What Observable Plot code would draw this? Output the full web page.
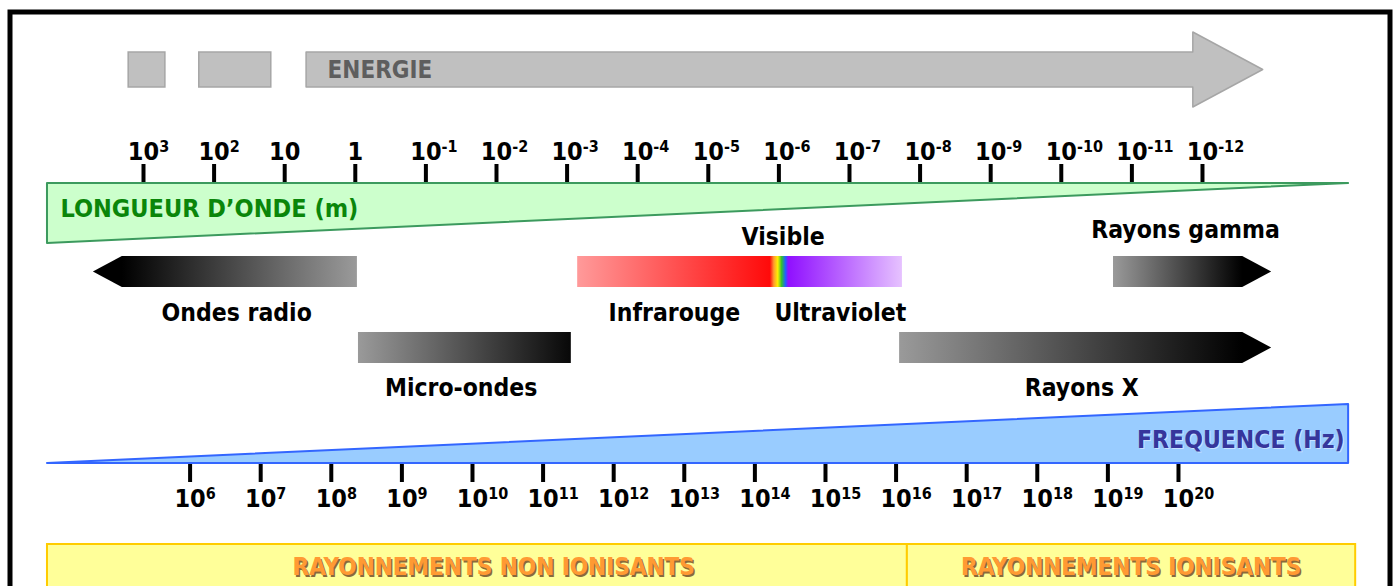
<!DOCTYPE html>
<html><head><meta charset="utf-8">
<script src="https://cdn.jsdelivr.net/npm/d3@7"></script>
<script src="https://cdn.jsdelivr.net/npm/@observablehq/plot@0.6"></script>
<style>
html,body{margin:0;padding:0;background:#fff;overflow:hidden}
</style></head><body><div id="chart"></div><script>
// ---- Data (x unit = exponent of the wavelength in metres) ----
const waveExponents = [3,2,1,0,-1,-2,-3,-4,-5,-6,-7,-8,-9,-10,-11,-12];
const waveLabels = ["10^3","10^2","10","1","10^-1","10^-2","10^-3","10^-4","10^-5","10^-6","10^-7","10^-8","10^-9","10^-10","10^-11","10^-12"];
const freqExponents = [6,7,8,9,10,11,12,13,14,15,16,17,18,19,20];
const freqLabels = ["10^6","10^7","10^8","10^9","10^10","10^11","10^12","10^13","10^14","10^15","10^16","10^17","10^18","10^19","10^20"];
const freqToWave = 8.34; // as drawn: wavelength exponent = 8.34 - frequency exponent

const bandNames = ["Ondes radio","Micro-ondes","Infrarouge–Ultraviolet","Rayons X","Rayons gamma"];
const bandLong  = [3.71, -0.045, -3.15, -7.71, -10.74];   // long-wavelength end
const bandShort = [-0.03, -3.06, -7.75, -12.98, -12.98];  // short-wavelength end
const bandArrow = ["left","none","none","right","right"];
const bandRow   = [1,2,1,2,1];
const visibleRed = -5.88, visibleViolet = -6.14;           // visible window inside the IR–UV bar

const labelTexts = ["Ondes radio","Micro-ondes","Infrarouge","Visible","Ultraviolet","Rayons X","Rayons gamma"];
const labelAt    = [1.68, -1.50, -4.52, -6.06, -6.87, -10.29, -11.76];
const labelRow   = ["row1","row2","row1","visible","row1","row2","gamma"];

const axisFrom = 4.36, axisTo = -14.07;                    // ends of the two wedges
const energyBlocks = [[3.21, 2.69],[2.21, 1.19]];
const energyArrow = [0.69, -11.87, -12.86];                // start, head base, tip
const zones = ["RAYONNEMENTS NON IONISANTS","RAYONNEMENTS IONISANTS"];
const zoneFrom = [4.36, -7.82], zoneTo = [-7.82, -14.17], zoneLabelAt = [-1.96, -10.99];

// ---- Layout (pixels) ----
const W = 1395, H = 586;
const Y = {eTop:52,eBot:87,eHeadTop:32,eHeadBot:107,eLabel:70,waveLabel:151,waveTick:[164,183],
  gTop:183,gBot:243,gLabel:208,row1:[256,287],row2:[332,363],row1Label:313,row2Label:388,
  visible:237,gamma:230,bTop:404,bBot:463,bLabel:440,freqTick:[464,482],freqLabel:498,yellow:[544,640],yLabel:567};
const headLen = 0.41;
const FONT = "'DejaVu Sans Condensed','DejaVu Sans',sans-serif";
const LABEL = 24.5, TICK = 25, SUP = 16;

function arrowPts(long, short, dir, top, bot){
  const mid = (top+bot)/2;
  if (dir==="right") return [{x:long,y1:top,y2:bot},{x:short+headLen,y1:top,y2:bot},{x:short,y1:mid,y2:mid}];
  if (dir==="left") return [{x:long,y1:mid,y2:mid},{x:long-headLen,y1:top,y2:bot},{x:short,y1:top,y2:bot}];
  return [{x:long,y1:top,y2:bot},{x:short,y1:top,y2:bot}];
}
const frac = (i,e) => (bandLong[i]-e)/(bandLong[i]-bandShort[i]);
const gradients = [
  [[0,"#000"],[frac(0,bandLong[0]-headLen),"#000"],[1,"#9a9a9a"]],
  [[0,"#9a9a9a"],[1,"#080808"]],
  [[0,"#ff9a9a"],[frac(2,visibleRed),"#ff0a0a"],[frac(2,visibleRed)+0.012,"#ff9a30"],[frac(2,visibleRed)+0.024,"#ffee00"],
   [frac(2,visibleRed)+0.036,"#30c030"],[frac(2,visibleRed)+0.048,"#2060ff"],[frac(2,visibleViolet),"#9010ff"],[1,"#e6c2ff"]],
  [[0,"#9a9a9a"],[frac(3,bandShort[3]+headLen),"#000"],[1,"#000"]],
  [[0,"#9a9a9a"],[frac(4,bandShort[4]+headLen),"#000"],[1,"#000"]]
];

const marks = [];
// frame
marks.push(Plot.frame({stroke:"#000",strokeWidth:5,insetLeft:9.5,insetTop:11.5,insetRight:5.5,insetBottom:-20}));
// energy
marks.push(Plot.rect(energyBlocks,{x1:d=>d[0],x2:d=>d[1],y1:Y.eTop,y2:Y.eBot,fill:"#c0c0c0",stroke:"#a6a6a6",strokeWidth:1.5}));
marks.push(Plot.areaY([
  {x:energyArrow[0],y1:Y.eTop,y2:Y.eBot},{x:energyArrow[1],y1:Y.eTop,y2:Y.eBot},
  {x:energyArrow[1],y1:Y.eHeadTop,y2:Y.eHeadBot},{x:energyArrow[2],y1:(Y.eTop+Y.eBot)/2,y2:(Y.eTop+Y.eBot)/2}],
  {x:"x",y1:"y1",y2:"y2",fill:"#c0c0c0",stroke:"#a6a6a6",strokeWidth:1.5}));
marks.push(Plot.text(["ENERGIE"],{x:energyArrow[0],y:Y.eLabel,text:d=>d,dx:21,textAnchor:"start",fill:"#5e5e5e",fontSize:24,fontWeight:"bold",fontFamily:FONT}));
// wavelength axis
marks.push(Plot.ruleX(waveExponents,{x:d=>d,y1:Y.waveTick[0],y2:Y.waveTick[1],stroke:"#000",strokeWidth:4}));
marks.push(Plot.text(waveExponents,{x:d=>d,y:Y.waveLabel,text:(d,i)=>waveLabels[i],fill:"#000",fontSize:TICK,fontWeight:"bold",fontFamily:FONT}));
marks.push(Plot.areaY([{x:axisFrom,y1:Y.gTop,y2:Y.gBot},{x:axisTo,y1:Y.gTop,y2:Y.gTop}],
  {x:"x",y1:"y1",y2:"y2",fill:"#ccffcc",stroke:"#3c9a5e",strokeWidth:2}));
marks.push(Plot.text(["LONGUEUR D’ONDE (m)"],{x:axisFrom,y:Y.gLabel,text:d=>d,dx:13,textAnchor:"start",fill:"#0a860a",fontSize:25,fontWeight:"bold",fontFamily:FONT}));
// bands
bandNames.forEach((name,i)=>{
  const r = bandRow[i]===1?Y.row1:Y.row2;
  marks.push(Plot.areaY(arrowPts(bandLong[i],bandShort[i],bandArrow[i],r[0],r[1]),
    {x:"x",y1:"y1",y2:"y2",fill:`url(#band${i})`}));
});
const rowY = {row1:Y.row1Label,row2:Y.row2Label,visible:Y.visible,gamma:Y.gamma};
marks.push(Plot.text(labelTexts,{x:(d,i)=>labelAt[i],y:(d,i)=>rowY[labelRow[i]],text:d=>d,fill:"#000",fontSize:LABEL,fontWeight:"bold",fontFamily:FONT}));
// frequency axis
marks.push(Plot.areaY([{x:axisFrom,y1:Y.bBot,y2:Y.bBot},{x:axisTo,y1:Y.bTop,y2:Y.bBot}],
  {x:"x",y1:"y1",y2:"y2",fill:"#99ccff",stroke:"#3366ff",strokeWidth:2}));
marks.push(Plot.text(["FREQUENCE (Hz)"],{x:axisTo,y:Y.bLabel,text:d=>d,dx:-3,dy:1,textAnchor:"end",fill:"#c8e2ff",fontSize:24.5,fontWeight:"bold",fontFamily:FONT}));
marks.push(Plot.text(["FREQUENCE (Hz)"],{x:axisTo,y:Y.bLabel,text:d=>d,dx:-4,textAnchor:"end",fill:"#36369c",fontSize:24.5,fontWeight:"bold",fontFamily:FONT}));
marks.push(Plot.ruleX(freqExponents,{x:d=>freqToWave-d,y1:Y.freqTick[0],y2:Y.freqTick[1],stroke:"#000",strokeWidth:4}));
marks.push(Plot.text(freqExponents,{x:d=>freqToWave-d,y:Y.freqLabel,text:(d,i)=>freqLabels[i],fill:"#000",fontSize:TICK,fontWeight:"bold",fontFamily:FONT}));
// zones
marks.push(Plot.rect(zones,{x1:(d,i)=>zoneFrom[i],x2:(d,i)=>zoneTo[i],y1:Y.yellow[0],y2:Y.yellow[1],fill:"#ffff99",stroke:"#ffcc00",strokeWidth:2}));
marks.push(Plot.text(zones,{x:(d,i)=>zoneLabelAt[i],y:Y.yLabel,text:d=>d,dx:1.5,dy:1.5,fill:"#8a6a3a",fontSize:24,fontWeight:"bold",fontFamily:FONT}));
marks.push(Plot.text(zones,{x:(d,i)=>zoneLabelAt[i],y:Y.yLabel,text:d=>d,fill:"#ff9a33",fontSize:24,fontWeight:"bold",fontFamily:FONT}));

const svg = Plot.plot({
  width:W,height:H,margin:0,
  x:{domain:[5.0255,-14.734],range:[0,W],axis:null},
  y:{domain:[0,H],range:[0,H],axis:null},
  style:{background:"#fff",overflow:"hidden"},
  marks
});
document.getElementById("chart").appendChild(svg);

// gradients
const defs = d3.select(svg).insert("defs",":first-child");
gradients.forEach((stops,i)=>{
  const g = defs.append("linearGradient").attr("id",`band${i}`).attr("x1","0").attr("x2","1").attr("y1","0").attr("y2","0");
  stops.forEach(([o,c])=>g.append("stop").attr("offset",o).attr("stop-color",c));
});
// superscripts: base centred on the tick, exponent raised
d3.select(svg).selectAll("text").each(function(){
  const t = this.textContent;
  if (!t.includes("^")) return;
  const [base,exp] = t.split("^");
  const el = d3.select(this);
  el.text(null);
  const b = el.append("tspan").text(base);
  el.append("tspan").attr("dy","-8").attr("font-size",SUP).text(exp);
  const bw = b.node().getComputedTextLength();
  el.attr("text-anchor","start");
  el.attr("transform",(el.attr("transform")||"")+` translate(${-bw/2},0)`);
});
</script></body></html>
